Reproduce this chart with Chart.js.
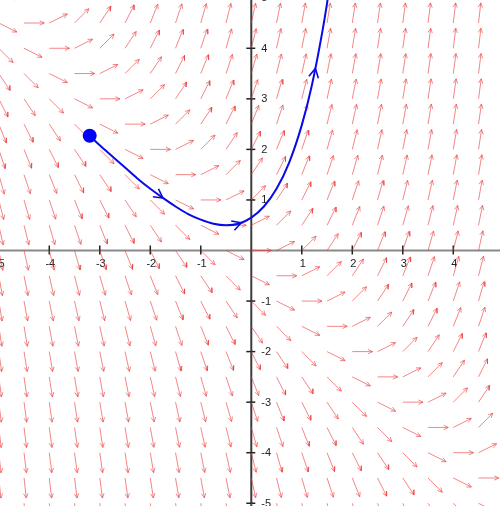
<!DOCTYPE html>
<html>
<head>
<meta charset="utf-8">
<script src="https://cdn.jsdelivr.net/npm/chart.js@4"></script>
<style>
html,body{margin:0;padding:0;background:#fff;overflow:hidden}
#c{display:block}
</style>
</head>
<body>
<canvas id="c" width="500" height="506"></canvas>
<script>
// Direction-field grid (arrow tails)
const fieldX = [-5,-4.5,-4,-3.5,-3,-2.5,-2,-1.5,-1,-0.5,0,0.5,1,1.5,2,2.5,3,3.5,4,4.5,5];
const fieldY = [5,4.5,4,3.5,3,2.5,2,1.5,1,0.5,0,-0.5,-1,-1.5,-2,-2.5,-3,-3.5,-4,-4.5,-5];
// Slope (dy/dx) of each arrow, one row per fieldY value, one column per fieldX value
const fieldSlope = [
[0,0.5,1,1.5,2,2.5,3,3.5,4,4.5,5,5.5,6,6.5,7,7.5,8,8.5,9,9.5,10],
[-0.5,0,0.5,1,1.5,2,2.5,3,3.5,4,4.5,5,5.5,6,6.5,7,7.5,8,8.5,9,9.5],
[-1,-0.5,0,0.5,1,1.5,2,2.5,3,3.5,4,4.5,5,5.5,6,6.5,7,7.5,8,8.5,9],
[-1.5,-1,-0.5,0,0.5,1,1.5,2,2.5,3,3.5,4,4.5,5,5.5,6,6.5,7,7.5,8,8.5],
[-2,-1.5,-1,-0.5,0,0.5,1,1.5,2,2.5,3,3.5,4,4.5,5,5.5,6,6.5,7,7.5,8],
[-2.5,-2,-1.5,-1,-0.5,0,0.5,1,1.5,2,2.5,3,3.5,4,4.5,5,5.5,6,6.5,7,7.5],
[-3,-2.5,-2,-1.5,-1,-0.5,0,0.5,1,1.5,2,2.5,3,3.5,4,4.5,5,5.5,6,6.5,7],
[-3.5,-3,-2.5,-2,-1.5,-1,-0.5,0,0.5,1,1.5,2,2.5,3,3.5,4,4.5,5,5.5,6,6.5],
[-4,-3.5,-3,-2.5,-2,-1.5,-1,-0.5,0,0.5,1,1.5,2,2.5,3,3.5,4,4.5,5,5.5,6],
[-4.5,-4,-3.5,-3,-2.5,-2,-1.5,-1,-0.5,0,0.5,1,1.5,2,2.5,3,3.5,4,4.5,5,5.5],
[-5,-4.5,-4,-3.5,-3,-2.5,-2,-1.5,-1,-0.5,0,0.5,1,1.5,2,2.5,3,3.5,4,4.5,5],
[-5.5,-5,-4.5,-4,-3.5,-3,-2.5,-2,-1.5,-1,-0.5,0,0.5,1,1.5,2,2.5,3,3.5,4,4.5],
[-6,-5.5,-5,-4.5,-4,-3.5,-3,-2.5,-2,-1.5,-1,-0.5,0,0.5,1,1.5,2,2.5,3,3.5,4],
[-6.5,-6,-5.5,-5,-4.5,-4,-3.5,-3,-2.5,-2,-1.5,-1,-0.5,0,0.5,1,1.5,2,2.5,3,3.5],
[-7,-6.5,-6,-5.5,-5,-4.5,-4,-3.5,-3,-2.5,-2,-1.5,-1,-0.5,0,0.5,1,1.5,2,2.5,3],
[-7.5,-7,-6.5,-6,-5.5,-5,-4.5,-4,-3.5,-3,-2.5,-2,-1.5,-1,-0.5,0,0.5,1,1.5,2,2.5],
[-8,-7.5,-7,-6.5,-6,-5.5,-5,-4.5,-4,-3.5,-3,-2.5,-2,-1.5,-1,-0.5,0,0.5,1,1.5,2],
[-8.5,-8,-7.5,-7,-6.5,-6,-5.5,-5,-4.5,-4,-3.5,-3,-2.5,-2,-1.5,-1,-0.5,0,0.5,1,1.5],
[-9,-8.5,-8,-7.5,-7,-6.5,-6,-5.5,-5,-4.5,-4,-3.5,-3,-2.5,-2,-1.5,-1,-0.5,0,0.5,1],
[-9.5,-9,-8.5,-8,-7.5,-7,-6.5,-6,-5.5,-5,-4.5,-4,-3.5,-3,-2.5,-2,-1.5,-1,-0.5,0,0.5],
[-10,-9.5,-9,-8.5,-8,-7.5,-7,-6.5,-6,-5.5,-5,-4.5,-4,-3.5,-3,-2.5,-2,-1.5,-1,-0.5,0]
];
// Solution curve
const curveX = [-3.2,-3,-2.75,-2.5,-2.25,-2,-1.75,-1.5,-1.25,-1,-0.75,-0.5,-0.25,0,0.25,0.5,0.75,1,1.2,1.4,1.5,1.6];
const curveY = [2.27,2.08,1.86,1.64,1.42,1.22,1.04,0.87,0.72,0.61,0.53,0.50,0.53,0.65,0.87,1.22,1.74,2.48,3.27,4.29,4.89,5.57];
// Starting point (blue dot)
const startX = [-3.2];
const startY = [2.27];
// Direction arrowheads on the curve
const curveArrowX = [-1.75,-0.2,1.27];
const curveArrowY = [1.04,0.55,3.6];
const curveArrowSlope = [-0.71,0.35,4.87];
// Tick labels
const xTickLabels = [-5,-4,-3,-2,-1,1,2,3,4,5];
const yTickLabels = [5,4,3,2,1,-1,-2,-3,-4,-5];

const fieldData = [];
fieldY.forEach((yv, j) => {
  fieldX.forEach((xv, i) => {
    const t = Math.atan(fieldSlope[j][i]);
    const len = 0.4;
    const tx = xv + len * Math.cos(t), ty = yv + len * Math.sin(t);
    fieldData.push({x: xv, y: yv}, {x: tx, y: ty}, {x: tx, y: null});
    const h = 0.1, s = 0.45;
    fieldData.push(
      {x: tx + h * Math.cos(t + Math.PI - s), y: ty + h * Math.sin(t + Math.PI - s)},
      {x: tx, y: ty},
      {x: tx + h * Math.cos(t + Math.PI + s), y: ty + h * Math.sin(t + Math.PI + s)},
      {x: tx, y: null}
    );
  });
});

const curveData = curveX.map((xv, i) => ({x: xv, y: curveY[i]}));
const startData = startX.map((xv, i) => ({x: xv, y: startY[i]}));

const curveArrowData = [];
curveArrowX.forEach((xv, i) => {
  const t = Math.atan(curveArrowSlope[i]);
  const h = 0.2, s = 0.5, xt = xv, yt = curveArrowY[i];
  curveArrowData.push(
    {x: xt + h * Math.cos(t + Math.PI - s), y: yt + h * Math.sin(t + Math.PI - s)},
    {x: xt, y: yt},
    {x: xt + h * Math.cos(t + Math.PI + s), y: yt + h * Math.sin(t + Math.PI + s)},
    {x: xt, y: null}
  );
});

const axesPlugin = {
  id: 'axesAtOrigin',
  beforeDatasetsDraw(chart) {
    const {ctx, chartArea: a, scales: {x, y}} = chart;
    const x0 = x.getPixelForValue(0), y0 = y.getPixelForValue(0);
    ctx.save();
    ctx.lineWidth = 2;
    ctx.strokeStyle = '#8a8a8a';
    ctx.beginPath(); ctx.moveTo(a.left, y0); ctx.lineTo(a.right, y0); ctx.stroke();
    ctx.strokeStyle = '#3c3c3c';
    ctx.beginPath(); ctx.moveTo(x0, a.top); ctx.lineTo(x0, a.bottom); ctx.stroke();
    ctx.lineWidth = 1.5;
    ctx.strokeStyle = '#222';
    ctx.fillStyle = '#222';
    ctx.font = '11px "Liberation Sans", Arial, sans-serif';
    ctx.textAlign = 'center';
    ctx.textBaseline = 'top';
    xTickLabels.forEach(v => {
      const px = x.getPixelForValue(v);
      ctx.beginPath(); ctx.moveTo(px, y0 - 5); ctx.lineTo(px, y0 + 4); ctx.stroke();
      ctx.fillText(String(v), px + 1, y0 + 8);
    });
    ctx.textAlign = 'left';
    ctx.textBaseline = 'middle';
    yTickLabels.forEach(v => {
      const py = y.getPixelForValue(v);
      ctx.beginPath(); ctx.moveTo(x0 - 5, py); ctx.lineTo(x0 + 4, py); ctx.stroke();
      ctx.fillText(String(v), x0 + 10, py + 0.5);
    });
    ctx.restore();
  }
};

new Chart(document.getElementById('c'), {
  type: 'line',
  data: {
    datasets: [
      {
        label: 'field',
        data: fieldData,
        borderColor: 'rgba(238, 60, 60, 0.62)',
        borderWidth: 1,
        pointRadius: 0,
        spanGaps: false,
        tension: 0,
        fill: false,
        order: 3
      },
      {
        label: 'solution',
        data: curveData,
        borderColor: '#0a0ae6',
        borderWidth: 2,
        pointRadius: 0,
        cubicInterpolationMode: 'monotone',
        fill: false,
        order: 2
      },
      {
        label: 'curve arrows',
        data: curveArrowData,
        borderColor: '#0a0ae6',
        borderWidth: 1.6,
        pointRadius: 0,
        spanGaps: false,
        tension: 0,
        fill: false,
        order: 1
      },
      {
        label: 'start',
        data: startData,
        showLine: false,
        pointRadius: 7,
        pointBackgroundColor: '#0000ff',
        pointBorderColor: '#0000ff',
        pointBorderWidth: 0,
        order: 0
      }
    ]
  },
  options: {
    responsive: false,
    animation: false,
    devicePixelRatio: 1,
    layout: {padding: 0, autoPadding: false},
    plugins: {legend: {display: false}, tooltip: {enabled: false}},
    events: [],
    scales: {
      x: {type: 'linear', min: -4.976, max: 4.925, display: false},
      y: {type: 'linear', min: -5.054, max: 4.955, display: false}
    }
  },
  plugins: [axesPlugin]
});
</script>
</body>
</html>
